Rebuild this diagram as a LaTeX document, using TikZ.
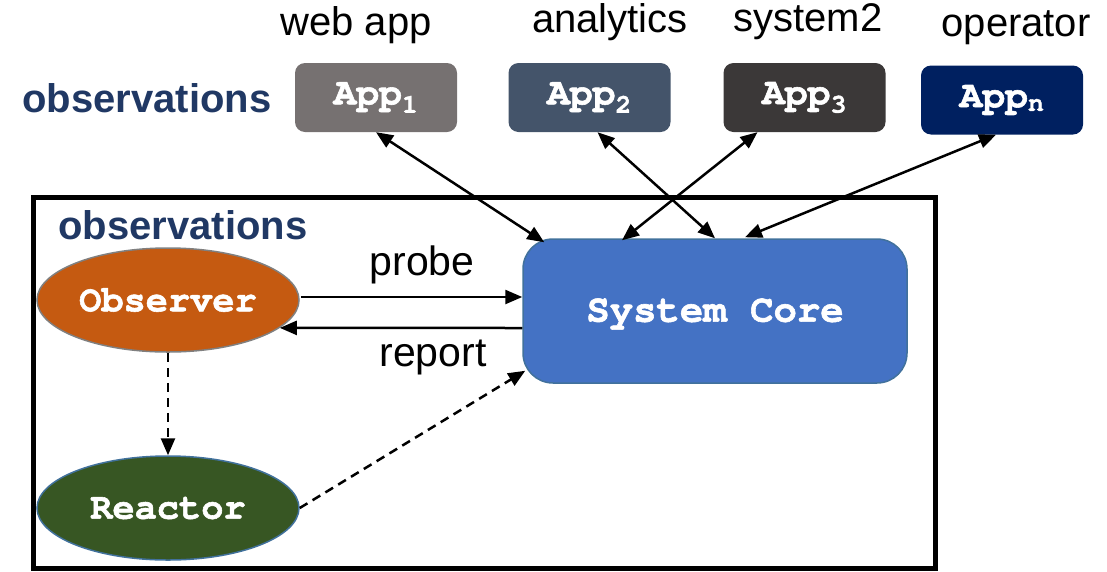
\documentclass[tikz,border=0pt]{standalone}
\usepackage{fontspec}
\setmainfont{Liberation Sans}
\setmonofont[BoldFeatures={FakeBold=1.5}]{TeX Gyre Cursor}
\usetikzlibrary{arrows.meta,calc,shapes.geometric}

\definecolor{appA}{HTML}{767171}
\definecolor{appB}{HTML}{44546A}
\definecolor{appC}{HTML}{3B3838}
\definecolor{appN}{HTML}{002060}
\definecolor{obsblue}{HTML}{203864}
\definecolor{observerfill}{HTML}{C55A11}
\definecolor{reactorfill}{HTML}{375623}
\definecolor{corefill}{HTML}{4472C4}
\definecolor{coreline}{HTML}{41719C}

\tikzset{
  appbox/.style={rectangle, rounded corners=10pt, minimum width=162pt, minimum height=69pt,
    inner sep=0pt, text=white, font=\fontsize{38}{40}\selectfont\ttfamily\bfseries},
  applabel/.style={font=\fontsize{40}{44}\selectfont, inner sep=0pt},
  heading/.style={font=\fontsize{40}{44}\selectfont\bfseries, text=obsblue, inner sep=0pt},
  agent/.style={ellipse, minimum width=262pt, minimum height=104pt, inner sep=0pt,
    line width=1.5pt, text=white, font=\fontsize{37}{40}\selectfont\ttfamily\bfseries},
  tip/.tip={Triangle[length=17pt,width=14pt]},
  link/.style={line width=2.5pt, -tip},
  bilink/.style={line width=2.5pt, tip-tip},
  dlink/.style={link, dash pattern=on 9pt off 6pt},
  edgelabel/.style={font=\fontsize{41}{44}\selectfont, inner sep=0pt}
}

\begin{document}
\begin{tikzpicture}[x=1pt,y=-1pt]
\useasboundingbox (0,0) rectangle (1107,571);

% outer frame of the observed system
\draw[line width=5pt] (33,197) rectangle (935,568);

% headings
\node[heading] (hout) at (147,98) {observations};
\node[heading] (hin) at (183,225) {observations};

% application boxes and their labels
\node[appbox, fill=appA] (a1) at (376,97.5) {App\textsubscript{1}};
\node[appbox, fill=appB] (a2) at (589.5,97.5) {App\textsubscript{2}};
\node[appbox, fill=appC] (a3) at (804.5,97.5) {App\textsubscript{3}};
\node[appbox, fill=appN] (an) at (1002,100) {App\textsubscript{n}};

\node[applabel] (l1) at (356,25) {web app};
\node[applabel] (l2) at (610,22) {analytics};
\node[applabel] (l3) at (808,22) {system2};
\node[applabel] (ln) at (1016,28) {operator};

% system core
\node[rectangle, rounded corners=30pt, fill=corefill, draw=coreline, line width=1.5pt,
  minimum width=384pt, minimum height=144pt, inner sep=0pt] (core) at (715,311) {};
\node[text=white, font=\fontsize{39}{40}\selectfont\ttfamily\bfseries, inner sep=0pt]
  (coretext) at ($(core.center)+(0,3)$) {System Core};

% observer and reactor
\node[agent, fill=observerfill, draw=gray] (obs) at (168,300) {Observer};
\node[agent, fill=reactorfill, draw=coreline] (rea) at (168,508) {Reactor};

% connections between applications and the core
\draw[bilink] (a1.south) -- ($(core.north west)+(22,4)$);
\draw[bilink] ([xshift=8pt]a2.south) -- (core.north);
\draw[bilink] ([xshift=-47pt]a3.south) -- ($(core.north)+(-93,2)$);
\draw[bilink] ([xshift=-6pt]an.south) -- ($(core.north)+(30,-1)$);

% probe / report
\coordinate (ps) at ($(obs.east)+(1,-3)$);
\draw[link] (ps) -- (ps -| core.west);
\coordinate (rs) at ($(core.west)+(0,17)$);
\draw[link] (rs) -- (obs.-14);
\node[edgelabel] (probe) at (422,265) {probe};
\node[edgelabel] (report) at (433,357) {report};

% reactions
\draw[dlink] (obs.south) -- (rea.north);
\draw[dlink] (rea.east) -- ($(core.south west)+(3,-13)$);
\end{tikzpicture}
\end{document}
